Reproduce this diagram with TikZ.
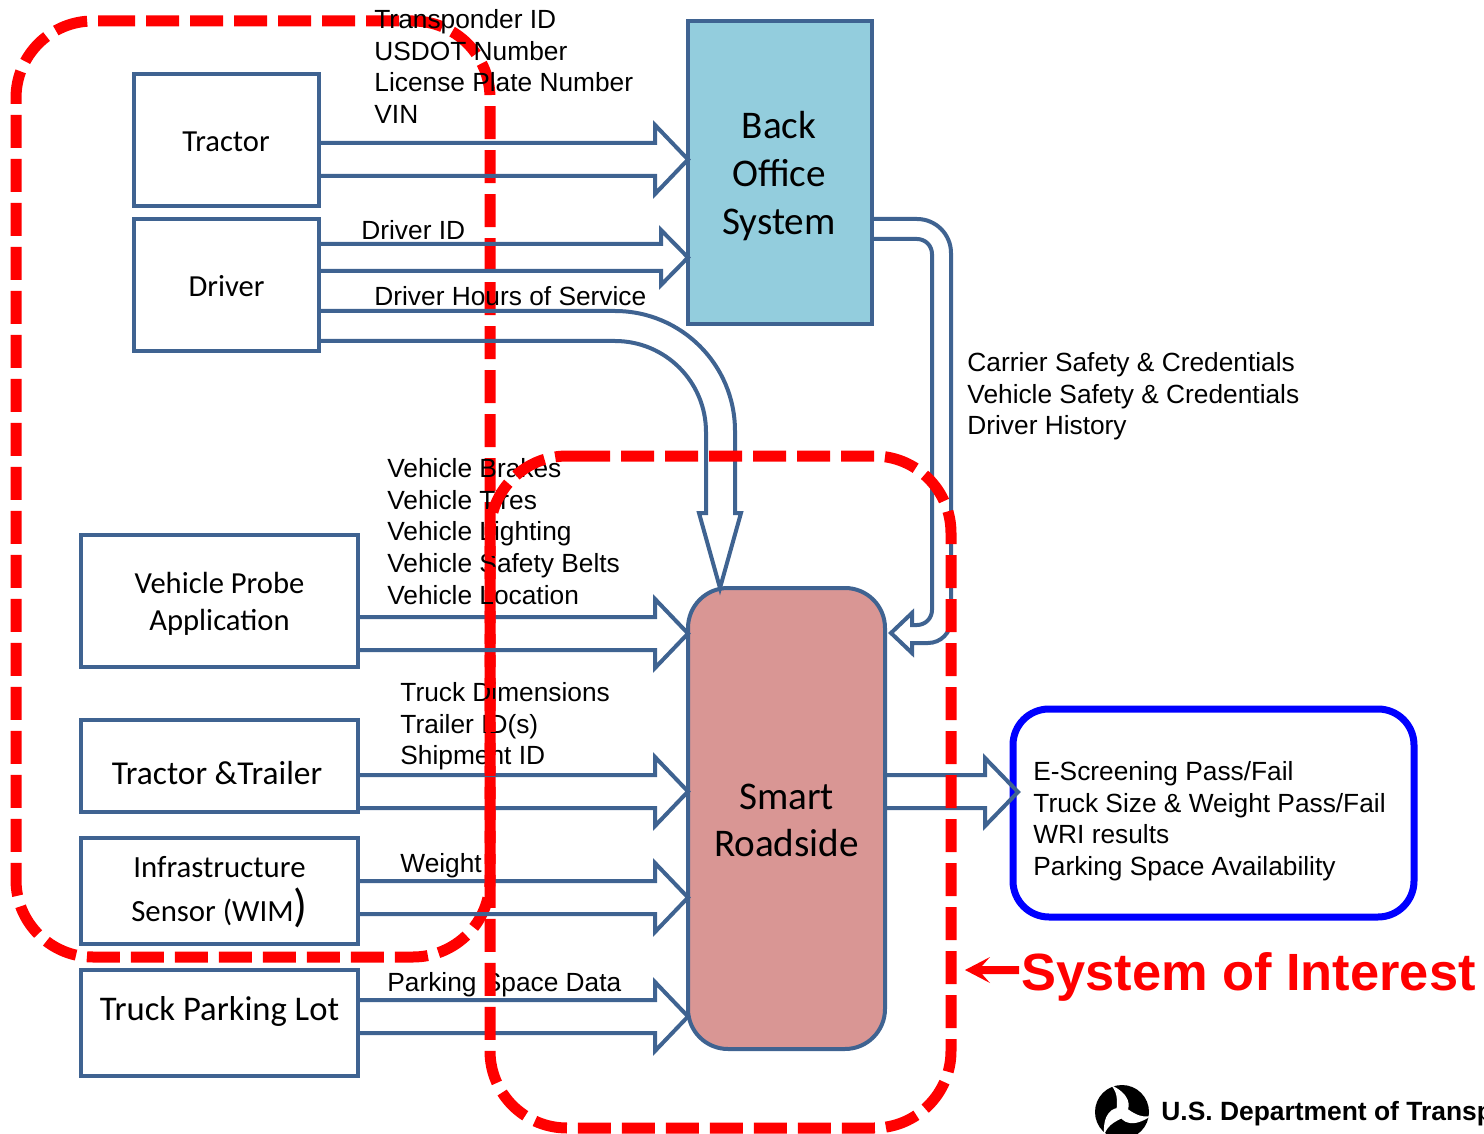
\documentclass[tikz,border=0pt]{standalone}
\usepackage{fontspec}
\setmainfont{Liberation Sans}
\newfontfamily\boxfont{Carlito}
\definecolor{lineblue}{HTML}{3F6391}
\definecolor{boteal}{HTML}{93CDDD}
\definecolor{srpink}{HTML}{D99694}
\tikzset{
  bluebox/.style={draw=lineblue,line width=2pt,inner sep=0pt,outer sep=0pt,align=center,font=\boxfont\fontsize{15.3}{18.5}\selectfont},
  bigbox/.style={bluebox,font=\boxfont\fontsize{19.6}{23.8}\selectfont},
  plainlabel/.style={inner sep=0pt,anchor=north west,align=left,font=\fontsize{13.15}{15.85}\selectfont},
  boxtext/.style={inner sep=0pt,align=center,font=\boxfont\fontsize{17.3}{20}\selectfont},
  blockline/.style={draw=lineblue,line width=2pt,miter limit=10},
  redzone/.style={draw=red,line width=5.5pt,dash pattern=on 16.5pt off 5.5pt,rounded corners=38.5pt},
}
% block arrow between named nodes: from, to, y top, y bottom, head half-extra, head length
\newcommand{\blockarrow}[6]{%
  \draw[blockline] (#1.east |- 0,#3) -- ([xshift=-#6*0.5pt]#2.west |- 0,#3)
    -- ++(0,-#5) -- (#2.west |- 0,{(#3+#4)/2}) -- ([xshift=-#6*0.5pt]#2.west |- 0,{#4+#5})
    -- ([xshift=-#6*0.5pt]#2.west |- 0,#4) -- (#1.east |- 0,#4);}
\begin{document}
\begin{tikzpicture}[x=0.5pt,y=-0.5pt]
\useasboundingbox (0,0) rectangle (1484,1134);
% left red outline lies under everything
\draw[redzone] (102,21) -- (490,21) -- (490,957) -- (16,957) -- (16,21) -- (102,21);
% boxes
\node[bluebox,minimum width=92.5pt,minimum height=66pt] (tractor) at (226.5,140) {};
\node[boxtext,font=\boxfont\fontsize{15.3}{18.5}\selectfont] (tractortext) at (226,141.5) {Tractor};
\node[bluebox,minimum width=92.5pt,minimum height=66pt] (driver) at (226.5,285) {};
\node[boxtext,font=\boxfont\fontsize{15.3}{18.5}\selectfont] (drivertext) at (226.5,286) {Driver};
\node[bluebox,minimum width=138.5pt,minimum height=66pt] (probe) at (219.5,601) {};
\node[boxtext,font=\boxfont\fontsize{15.3}{18.5}\selectfont] (probetext) at (219.5,603.5) {Vehicle Probe\\Application};
\node[bluebox,minimum width=138.5pt,minimum height=46pt] (trailer) at (219.5,766) {};
\node[boxtext,font=\boxfont\fontsize{16.7}{20}\selectfont] (trailertext) at (217,773.5) {Tractor \&Trailer};
\node[bluebox,minimum width=138.5pt,minimum height=53pt] (infra) at (219.5,891) {};
\node[boxtext,font=\boxfont\fontsize{15.4}{22}\selectfont] (infratext) at (219.5,892.5) {Infrastructure\\Sensor (WIM{\fontsize{23}{22}\selectfont)}};
\node[bluebox,minimum width=138.5pt,minimum height=53pt] (parking) at (219.5,1023) {};
\node[boxtext] (parkingtext) at (219.5,1011) {Truck Parking Lot};
\node[bigbox,fill=boteal,minimum width=92pt,minimum height=151.5pt] (bo) at (780,172.5) {};
\node[boxtext,font=\boxfont\fontsize{19.6}{23.8}\selectfont] (botext) at (779,176) {Back\\Office\\System};
\node[bigbox,fill=srpink,rounded corners=20pt,minimum width=98.5pt,minimum height=230.5pt] (sr) at (786.5,818.5) {};
\node[boxtext,font=\boxfont\fontsize{19.6}{23.8}\selectfont] (srtext) at (786.5,820.5) {Smart\\Roadside};
\node[draw=blue,line width=3.5pt,outer sep=0pt,rounded corners=18pt,minimum width=200.5pt,minimum height=104pt] (out) at (1213.5,813) {};
% block arrows
\blockarrow{tractor}{bo}{143}{176}{18}{33}
\blockarrow{driver}{bo}{244}{271}{14}{27}
\blockarrow{probe}{sr}{617}{650}{18}{33}
\blockarrow{trailer}{sr}{775}{808}{18}{33}
\blockarrow{infra}{sr}{881}{914}{18}{33}
\blockarrow{parking}{sr}{1000}{1033}{18}{33}
\draw[blockline] (sr.east |- 0,775) -- (985,775) -- (985,758) -- ([xshift=2.5pt]out.west |- 0,792) -- (985,826) -- (985,808) -- (sr.east |- 0,808);
% driver hours curved arrow
\draw[blockline] (driver.east |- 0,311) -- (615,311) arc[start angle=90,end angle=0,radius=60pt] -- (735,513) -- (741,513)
  -- (sr.north -| 720,0) -- (699,513) -- (706,513) -- (706,432) arc[start angle=0,end angle=90,radius=45.5pt] -- (driver.east |- 0,341);
% back office curved arrow
\draw[blockline] (bo.east |- 0,219) -- (917,219) arc[start angle=90,end angle=0,radius=17pt] -- (951,620) arc[start angle=0,end angle=-90,radius=11.5pt] -- (912,643) -- (912,653)
  -- ([xshift=3pt]sr.east |- 0,633) -- (912,613) -- (912,625) -- (917,625) arc[start angle=-90,end angle=0,radius=7.5pt] -- (932,254) arc[start angle=0,end angle=90,radius=7.5pt] -- (bo.east |- 0,239);
% labels
\node[plainlabel] (l1) at (374,9) {Transponder ID\\USDOT Number\\License Plate Number\\VIN};
\node[plainlabel] (l2) at (361,220) {Driver ID};
\node[plainlabel] (l3) at (374,286) {Driver Hours of Service};
\node[plainlabel] (l4) at (387,458) {Vehicle Brakes\\Vehicle Tires\\Vehicle Lighting\\Vehicle Safety Belts\\Vehicle Location};
\node[plainlabel] (l5) at (400,682) {Truck Dimensions\\Trailer ID(s)\\Shipment ID};
\node[plainlabel] (l6) at (400,853) {Weight};
\node[plainlabel] (l7) at (387,972) {Parking  Space Data};
\node[plainlabel] (l8) at (967,352) {Carrier Safety \& Credentials\\Vehicle Safety \& Credentials\\Driver History};
\node[plainlabel] (l9) at (1033,761) {E-Screening Pass/Fail\\Truck Size \& Weight Pass/Fail\\WRI results\\Parking Space Availability};
% right red outline lies over everything
\draw[redzone] (577,456) -- (951,456) -- (951,1128) -- (490,1128) -- (490,456) -- (577,456);
% system of interest
\node[inner sep=0pt,anchor=west,text=red,font=\bfseries\fontsize{26.2}{30}\selectfont] (soi) at (1021,977) {System of Interest};
\coordinate (soitip) at (965,970);
\fill[red] (soitip) -- (990,957) -- (982,966) -- ([xshift=-1pt]soi.west |- 0,966) -- ([xshift=-1pt]soi.west |- 0,974) -- (982,974) -- (990,983) -- cycle;
% logo and department line
\begin{scope}
\clip (0,0) rectangle (1484,1134);
\fill[black] (1122,1112) circle[radius=13.5pt];
\foreach \a in {0,120,240}{
  \fill[white,shift={(1122,1112)},rotate=\a] (3,3) .. controls (10,-6) and (8,-18) .. (-11,-27) .. controls (-3,-18) and (-5,-8) .. (-6,3) -- cycle;
}
\node[inner sep=0pt,anchor=west,font=\bfseries\fontsize{13.2}{15}\selectfont] (dot) at (1161,1114) {U.S. Department of Transportation};
\end{scope}
\end{tikzpicture}
\end{document}
